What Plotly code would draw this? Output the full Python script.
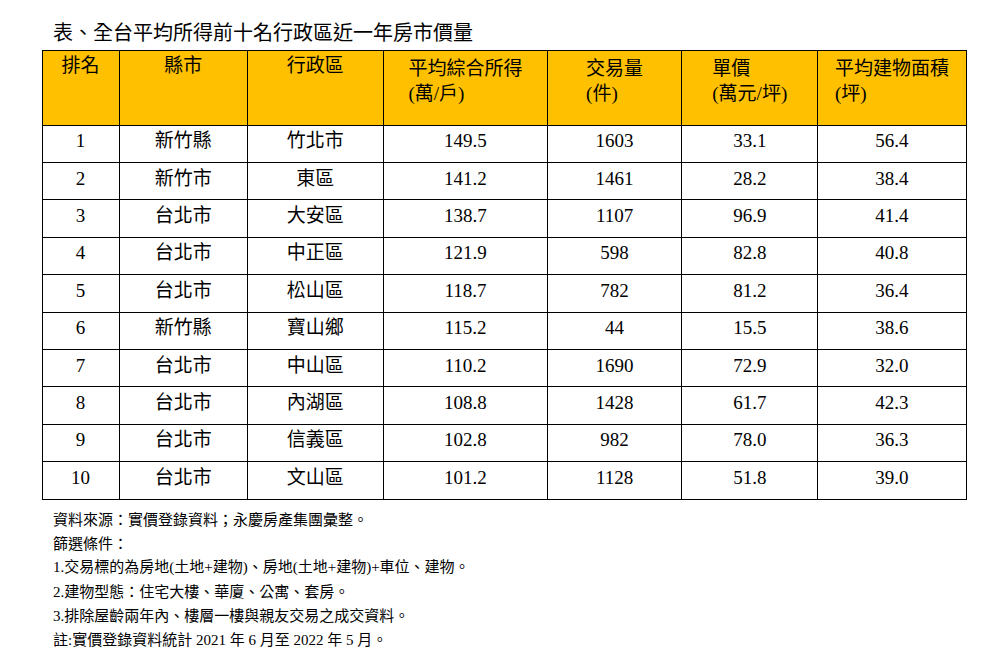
import plotly.graph_objects as go

title = "表、全台平均所得前十名行政區近一年房市價量"
headers = ["排名", "縣市", "行政區", "平均綜合所得<br>(萬/戶)", "交易量<br>(件)", "單價<br>(萬元/坪)", "平均建物面積<br>(坪)"]
rank = ["1", "2", "3", "4", "5", "6", "7", "8", "9", "10"]
county = ["新竹縣", "新竹市", "台北市", "台北市", "台北市", "新竹縣", "台北市", "台北市", "台北市", "台北市"]
district = ["竹北市", "東區", "大安區", "中正區", "松山區", "寶山鄉", "中山區", "內湖區", "信義區", "文山區"]
income = ["149.5", "141.2", "138.7", "121.9", "118.7", "115.2", "110.2", "108.8", "102.8", "101.2"]
volume = ["1603", "1461", "1107", "598", "782", "44", "1690", "1428", "982", "1128"]
price = ["33.1", "28.2", "96.9", "82.8", "81.2", "15.5", "72.9", "61.7", "78.0", "51.8"]
area = ["56.4", "38.4", "41.4", "40.8", "36.4", "38.6", "32.0", "42.3", "36.3", "39.0"]
notes = [
    "資料來源：實價登錄資料；永慶房產集團彙整。",
    "篩選條件：",
    "1.交易標的為房地(土地+建物)、房地(土地+建物)+車位、建物。",
    "2.建物型態：住宅大樓、華廈、公寓、套房。",
    "3.排除屋齡兩年內、樓層一樓與親友交易之成交資料。",
    "註:實價登錄資料統計 2021 年 6 月至 2022 年 5 月。",
]

W, H = 1000, 667
font = "Liberation Serif, Noto Sans CJK TC"

fig = go.Figure(go.Table(
    domain=dict(x=[34 / W, 959 / W], y=[0, 1 - 42 / H]),
    columnwidth=[77, 128, 136, 164, 134, 136, 148],
    header=dict(
        values=headers,
        fill_color="#FFC000",
        line_color="black",
        align="center",
        height=75,
        font=dict(family=font, size=19, color="black"),
    ),
    cells=dict(
        values=[rank, county, district, income, volume, price, area],
        fill_color="white",
        line_color="black",
        align="center",
        height=37.4,
        font=dict(family=font, size=19, color="black"),
    ),
))

fig.add_annotation(text=title, x=43 / W, y=1 - 25 / H, xref="paper", yref="paper",
                   xanchor="left", yanchor="middle", showarrow=False,
                   font=dict(family=font, size=20, color="black"))
for i, n in enumerate(notes):
    fig.add_annotation(text=n, x=43 / W, y=1 - (511 + i * 24) / H, xref="paper", yref="paper",
                       xanchor="left", yanchor="middle", showarrow=False,
                       font=dict(family=font, size=15, color="black"))

fig.update_layout(width=W, height=H, margin=dict(l=0, r=0, t=0, b=0),
                  paper_bgcolor="white", plot_bgcolor="white")
fig.write_html("out.html")
